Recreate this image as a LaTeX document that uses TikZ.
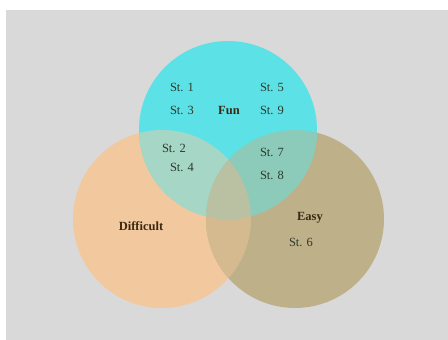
\documentclass[tikz,border=0pt]{standalone}
\usepackage{fontspec}
\setmainfont{Liberation Serif}
\definecolor{bg}{HTML}{D9D9D9}
\definecolor{cfun}{HTML}{5CE1E6}
\definecolor{cdiff}{HTML}{F2C89E}
\definecolor{ceasy}{HTML}{BEB18A}
\definecolor{cfd}{HTML}{A6D6C6}
\definecolor{cfe}{HTML}{8CCBB9}
\definecolor{cde}{HTML}{D5BA90}
\definecolor{call}{HTML}{B9C1A2}
\definecolor{stc}{HTML}{2E3B2C}
\definecolor{labc}{HTML}{3A2A12}
\tikzset{
  sttext/.style={font=\fontsize{12.5}{14}\selectfont, text=stc, inner sep=0pt},
  labtext/.style={font=\fontsize{12.5}{14}\selectfont\bfseries, text=labc, inner sep=0pt}
}
\begin{document}
\begin{tikzpicture}[x=1pt,y=-1pt]
\useasboundingbox (0,0) rectangle (448,340);
\fill[white] (0,0) rectangle (448,340);
\fill[bg] (6,10) rectangle (448,340);
\coordinate (F) at (228,130);
\coordinate (D) at (162,219);
\coordinate (E) at (295,219);
\def\R{89}
\fill[cdiff] (D) circle[radius=\R];
\fill[ceasy] (E) circle[radius=\R];
\fill[cfun] (F) circle[radius=\R];
\begin{scope}
  \clip (D) circle[radius=\R];
  \fill[cde] (E) circle[radius=\R];
\end{scope}
\begin{scope}
  \clip (F) circle[radius=\R];
  \fill[cfd] (D) circle[radius=\R];
  \fill[cfe] (E) circle[radius=\R];
  \clip (D) circle[radius=\R];
  \fill[call] (E) circle[radius=\R];
\end{scope}
\node[sttext] (s1) at (182,87) {St. 1};
\node[sttext] (s3) at (182,110) {St. 3};
\node[labtext] (fun) at (229,110) {Fun};
\node[sttext] (s5) at (272,87) {St. 5};
\node[sttext] (s9) at (272,110) {St. 9};
\node[sttext] (s2) at (174,148) {St. 2};
\node[sttext] (s4) at (182,167) {St. 4};
\node[sttext] (s7) at (272,152) {St. 7};
\node[sttext] (s8) at (272,175) {St. 8};
\node[labtext] (easy) at (310,218) {Easy};
\node[sttext] (s6) at (301,242) {St. 6};
\node[labtext] (diff) at (141,226) {Difficult};
\end{tikzpicture}
\end{document}
